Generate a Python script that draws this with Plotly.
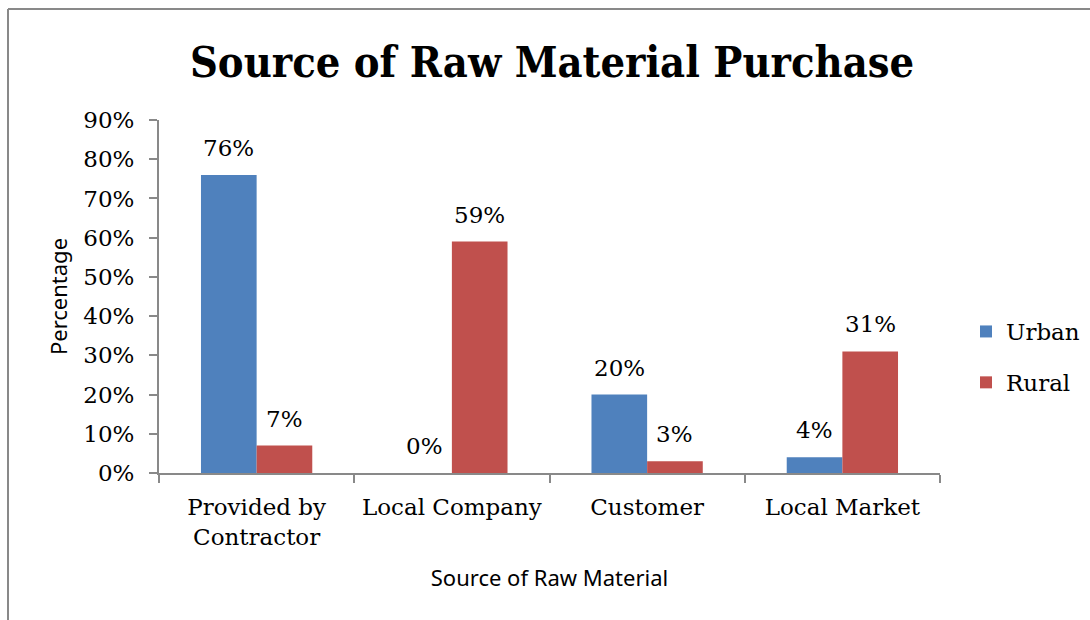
import plotly.graph_objects as go

categories = ["Provided by<br>Contractor", "Local Company", "Customer", "Local Market"]
urban = [0.76, 0.00, 0.20, 0.04]
rural = [0.07, 0.59, 0.03, 0.31]
series_names = ["Urban", "Rural"]
tick_values = [0.0, 0.1, 0.2, 0.3, 0.4, 0.5, 0.6, 0.7, 0.8, 0.9]

W, H = 1090, 620
ML, MR, MT, MB = 159, 150, 120, 147
PW, PH = W - ML - MR, H - MT - MB
BARGAP = 0.43

SERIF = "DejaVu Serif, Liberation Serif, serif"
SANS = "Noto Sans, DejaVu Sans, sans-serif"
GRID = "#898989"


def px_x(x):
    return (x - ML) / PW


def px_y(y):
    return (H - MB - y) / PH


series = [(series_names[0], urban, "#4F81BD"), (series_names[1], rural, "#C0504D")]

fig = go.Figure()
for name, vals, color in series:
    fig.add_trace(go.Bar(
        name=name, x=categories, y=vals, legendgroup=name,
        marker=dict(color=color, line=dict(width=0)),
    ))

# value labels above each bar, offset to the bar's slot within its group
bar_px = PW / len(categories) * (1 - BARGAP) / len(series)
for i, (name, vals, color) in enumerate(series):
    dx = (i - (len(series) - 1) / 2) * bar_px
    for cat, v in zip(categories, vals):
        fig.add_annotation(
            x=cat, y=v, xref="x", yref="y", text=f"{round(v * 100)}%",
            showarrow=False, xanchor="center", yanchor="bottom",
            xshift=dx, yshift=12,
            font=dict(family=SERIF, size=23, color="#000"),
        )

# chart frame (left and top edges visible)
fig.add_shape(type="line", xref="paper", yref="paper",
              x0=px_x(8), x1=px_x(8), y0=px_y(9), y1=px_y(640),
              line=dict(color=GRID, width=2))
fig.add_shape(type="line", xref="paper", yref="paper",
              x0=px_x(8), x1=px_x(1110), y0=px_y(9), y1=px_y(9),
              line=dict(color=GRID, width=2))

fig.update_layout(
    width=W, height=H,
    margin=dict(l=ML, r=MR, t=MT, b=MB, autoexpand=False),
    paper_bgcolor="white", plot_bgcolor="white",
    barmode="group", bargap=BARGAP, bargroupgap=0,
    title=dict(text="<b>Source of Raw Material Purchase</b>",
               font=dict(family="DejaVu Serif Condensed, DejaVu Serif, serif",
                         size=43, color="#000"),
               x=px_x(552), xanchor="center", xref="paper",
               y=1 - 62 / H, yanchor="middle", yref="container"),
    showlegend=True,
    legend=dict(x=px_x(966), xanchor="left", y=px_y(357), yanchor="middle",
                font=dict(family=SERIF, size=23, color="#000"),
                tracegroupgap=18, itemwidth=30, bgcolor="rgba(0,0,0,0)"),
    font=dict(family=SERIF, color="#000"),
)

fig.update_xaxes(
    showline=True, linecolor=GRID, linewidth=2,
    ticks="outside", tickson="boundaries", ticklen=8, tickcolor=GRID, tickwidth=2,
    ticklabelstandoff=12,
    tickfont=dict(family=SERIF, size=23, color="#000"),
    title=dict(text="Source of Raw Material", standoff=22,
               font=dict(family=SANS, size=22, color="#000")),
    showgrid=False, zeroline=False,
)
fig.update_yaxes(
    range=[0, 0.9], tickvals=tick_values, tickformat=".0%",
    showline=True, linecolor=GRID, linewidth=2,
    ticks="outside", ticklen=8, tickcolor=GRID, tickwidth=2,
    ticklabelstandoff=10,
    tickfont=dict(family=SERIF, size=23, color="#000"),
    title=dict(text="Percentage", standoff=10,
               font=dict(family=SANS, size=22, color="#000")),
    showgrid=False, zeroline=False,
)

fig.write_html("out.html")
